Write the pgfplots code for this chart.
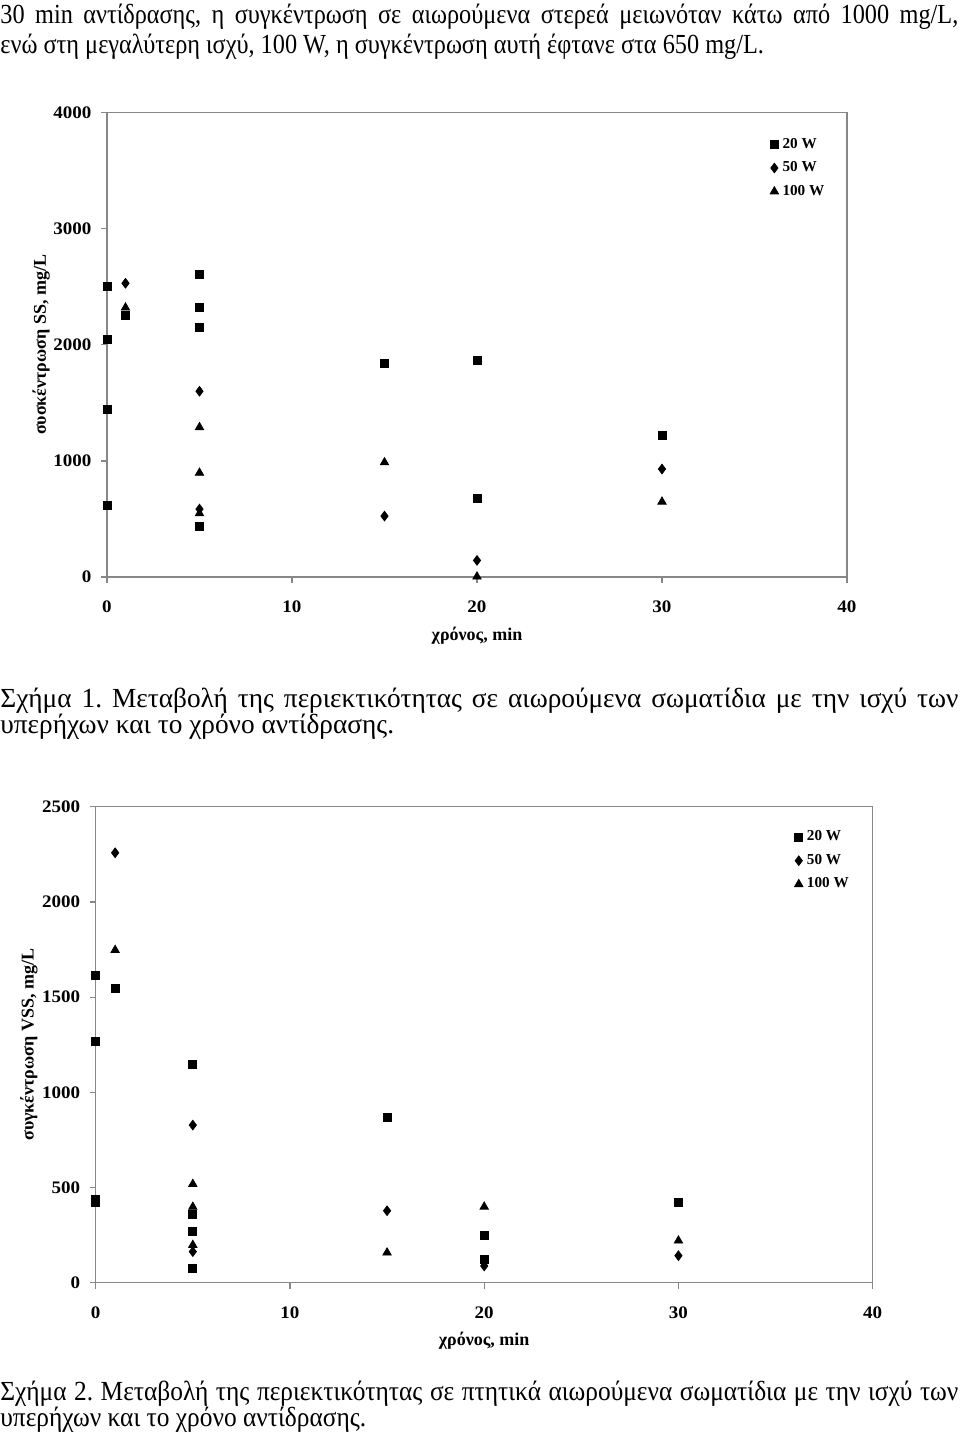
\documentclass[border=0pt]{standalone}
\usepackage{fontspec}
\usepackage{pgfplots}
\pgfplotsset{compat=1.18}
\setmainfont{Liberation Serif}
\newfontfamily\parafont[FakeStretch=0.88]{Liberation Serif}
\newfontfamily\capAfont[FakeStretch=0.99]{Liberation Serif}
\newfontfamily\capBfont[FakeStretch=0.92]{Liberation Serif}
\newfontfamily\tickfont[FakeStretch=1.08]{Liberation Serif}
\newfontfamily\labfont[FakeStretch=1.0]{Liberation Serif}
\newcommand{\parasize}{\parafont\frenchspacing\fontsize{13.8}{16}\selectfont}
\newcommand{\capAsize}{\capAfont\frenchspacing\fontsize{13.8}{16}\selectfont}
\newcommand{\capBsize}{\capBfont\frenchspacing\fontsize{13.8}{16}\selectfont}
\newcommand{\ticksize}{\tickfont\bfseries\fontsize{8.8}{10}\selectfont}
\newcommand{\labsize}{\labfont\bfseries\fontsize{9}{11}\selectfont}
\newcommand{\legsize}{\labfont\bfseries\fontsize{7.6}{9}\selectfont}
\definecolor{axgray}{RGB}{135,135,135}

\pgfplotsset{
  mychart/.style={
    scale only axis,
    clip=false,
    axis line style={axgray, line width=0.7pt},
    every tick/.style={axgray, line width=0.6pt},
    tick align=outside,
    major tick length=3pt,
    xtick pos=bottom, ytick pos=left,
    /pgf/number format/assume math mode=true,
    /pgf/number format/1000 sep={},
    ticklabel style={font=\ticksize},
    xticklabel style={yshift=-5.5pt},
    yticklabel style={xshift=-1.3pt},
    label style={font=\labsize},
    legend style={draw=none, fill=none, font=\legsize, inner sep=0pt,
      row sep=1.2pt, cells={anchor=west}},
    legend cell align=left,
    legend image code/.code={\draw[mark repeat=2,mark phase=2] plot coordinates {(0cm,0cm) (0.15cm,0cm) (0.3cm,0cm)};},
    only marks,
  },
  sq/.style={mark=square*, mark size=2pt, black, mark options={fill=black}},
  di/.style={mark=diamond*, mark size=2.4pt, black, mark options={fill=black}},
  tr/.style={mark=triangle*, mark size=2.4pt, black, mark options={fill=black}},
}

\begin{document}
\begin{tikzpicture}
\path[use as bounding box] (0,0) rectangle (480pt,-721pt);

% paragraph text
\node[anchor=base west, inner sep=0pt] at (0pt,-11.5pt) {\parasize\makebox[479pt][s]{30 min αντίδρασης, η συγκέντρωση σε αιωρούμενα στερεά μειωνόταν κάτω από 1000 mg/L,}};
\node[anchor=base west, inner sep=0pt] at (0pt,-26.5pt) {\parasize ενώ στη μεγαλύτερη ισχύ, 100 W, η συγκέντρωση αυτή έφτανε στα 650 mg/L.};

% Chart 1
\begin{axis}[mychart,
  at={(53.5pt,-288.5pt)}, anchor=south west,
  width=370pt, height=232.2pt,
  xmin=0, xmax=40, ymin=0, ymax=4000,
  xtick={0,10,20,30,40}, ytick={0,1000,2000,3000,4000},
  xlabel={χρόνος, min}, ylabel={συσκέντρωση SS, mg/L},
  xlabel style={at={(axis description cs:0.5,-0.127)}, anchor=center},
  ylabel style={at={(axis description cs:-0.089,0.5)}, anchor=center},
  legend style={at={(0.8957,0.955)}, anchor=north west},
]
\addplot[sq] coordinates {(0,2500) (0,2045) (0,1440) (0,620) (1,2250) (5,2610) (5,2325) (5,2150) (5,440) (15,1840) (20,1865) (20,680) (30,1220)};
\addlegendentry{20 W}
\addplot[di] coordinates {(1,2530) (5,1600) (5,585) (15,525) (20,143) (30,930)};
\addlegendentry{50 W}
\addplot[tr] coordinates {(1,2320) (5,1290) (5,897) (5,548) (15,987) (20,3) (30,648)};
\addlegendentry{100 W}
\end{axis}

\node[anchor=base west, inner sep=0pt] at (0pt,-353.5pt) {\capAsize\makebox[479pt][s]{Σχήμα 1. Μεταβολή της περιεκτικότητας σε αιωρούμενα σωματίδια με την ισχύ των}};
\node[anchor=base west, inner sep=0pt] at (0pt,-366.5pt) {\capAsize υπερήχων και το χρόνο αντίδρασης.};

% Chart 2
\begin{axis}[mychart,
  at={(47.85pt,-641.35pt)}, anchor=south west,
  width=388.5pt, height=238pt,
  xmin=0, xmax=40, ymin=0, ymax=2500,
  xtick={0,10,20,30,40}, ytick={0,500,1000,1500,2000,2500},
  xlabel={χρόνος, min}, ylabel={συγκέντρωση VSS, mg/L},
  xlabel style={at={(axis description cs:0.5,-0.122)}, anchor=center},
  ylabel style={at={(axis description cs:-0.086,0.5)}, anchor=center},
  legend style={at={(0.899,0.959)}, anchor=north west},
]
\addplot[sq] coordinates {(0,1615) (0,1270) (0,440) (0,420) (1,1548) (5,1149) (5,358) (5,270) (5,73) (15,869) (20,248) (20,125) (30,420)};
\addlegendentry{20 W}
\addplot[di] coordinates {(1,2258) (5,828) (5,163) (15,378) (20,88) (30,142)};
\addlegendentry{50 W}
\addplot[tr] coordinates {(1,1747) (5,518) (5,398) (5,198) (15,158) (20,399) (30,221)};
\addlegendentry{100 W}
\end{axis}

\node[anchor=base west, inner sep=0pt] at (0pt,-700.4pt) {\capBsize\makebox[479pt][s]{Σχήμα 2. Μεταβολή της περιεκτικότητας σε πτητικά αιωρούμενα σωματίδια με την ισχύ των}};
\node[anchor=base west, inner sep=0pt] at (0pt,-713.4pt) {\capBsize υπερήχων και το χρόνο αντίδρασης.};
\end{tikzpicture}
\end{document}
